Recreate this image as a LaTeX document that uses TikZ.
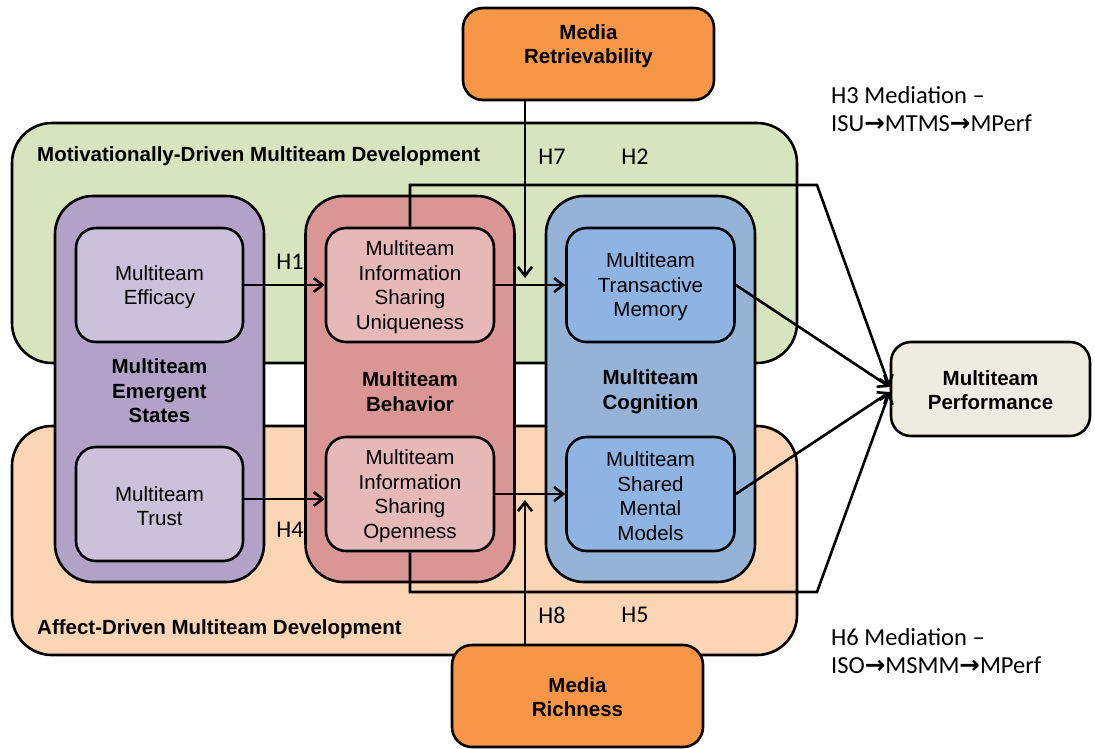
\documentclass[tikz,border=0pt]{standalone}
\usepackage{fontspec}
\setmainfont{Liberation Sans}
\newfontfamily\calfont{Carlito}
\newfontfamily\symfont{DejaVu Sans}
\usetikzlibrary{arrows.meta,calc}

\definecolor{motivgreen}{HTML}{D7E4BD}
\definecolor{affectpeach}{HTML}{FCD5B5}
\definecolor{purpleouter}{HTML}{B2A2C7}
\definecolor{purpleinner}{HTML}{CCC1DA}
\definecolor{redouter}{HTML}{D99694}
\definecolor{redinner}{HTML}{E6B9B8}
\definecolor{blueouter}{HTML}{95B3D7}
\definecolor{blueinner}{HTML}{8EB4E3}
\definecolor{mediaorange}{HTML}{F79646}
\definecolor{perfgrey}{HTML}{EEECE1}

\tikzset{
  panel/.style={draw=black, line width=2.6pt, inner sep=0pt, rectangle},
  region/.style={panel, rounded corners=40pt},
  column/.style={panel, rounded corners=38pt, minimum width=209pt, minimum height=386pt},
  innerbox/.style={panel, rounded corners=20pt, minimum width=167pt, minimum height=114pt},
  itxt/.style={font=\fontsize{20.5}{24.5}\selectfont, align=center, inner sep=0pt},
  btxt/.style={font=\fontsize{20.5}{24.5}\selectfont\bfseries, align=center, inner sep=0pt},
  hlab/.style={font=\calfont\fontsize{24}{28}\selectfont, inner sep=0pt},
  medtxt/.style={font=\calfont\fontsize{24.5}{28}\selectfont, align=left, inner sep=0pt, anchor=west},
  arr/.style={line width=2.6pt, -{Straight Barb[length=9pt,width=14pt,line width=2.6pt]}}
}

\newcommand{\rarr}{{\symfont\bfseries →}}

\begin{document}
\begin{tikzpicture}[x=1pt,y=-1pt]
\useasboundingbox (0,0) rectangle (1095,748);

% development regions
\node[region, fill=motivgreen, minimum width=785pt, minimum height=240pt] (motiv) at (404.5,243) {};
\node[region, fill=affectpeach, minimum width=785pt, minimum height=229pt] (affect) at (404.5,540.5) {};
\node[btxt, anchor=west] (motivlab) at (37,156) {Motivationally-Driven Multiteam Development};
\node[btxt, anchor=west] (affectlab) at (37,629) {Affect-Driven Multiteam Development};

% media boxes
\node[panel, rounded corners=20pt, fill=mediaorange, minimum width=251pt, minimum height=92pt] (retr) at (588.5,54) {};
\node[btxt] (retrlab) at ([yshift=8pt]retr.center) {Media\\Retrievability};
\node[panel, rounded corners=20pt, fill=mediaorange, minimum width=251pt, minimum height=102pt] (rich) at (577.5,696) {};
\node[btxt] (richlab) at ([yshift=-1pt]rich.center) {Media\\Richness};

% columns
\node[column, fill=purpleouter] (states) at (159.5,389) {};
\node[column, fill=redouter] (behav) at (410,389) {};
\node[column, fill=blueouter] (cogn) at (650.5,389) {};
\node[btxt] (stateslab) at (159.5,391) {Multiteam\\Emergent\\States};
\node[btxt] (behavlab) at (410,391.5) {Multiteam\\Behavior};
\node[btxt] (cognlab) at (650.5,391.5) {Multiteam\\Cognition};

% inner constructs
\node[innerbox, fill=purpleinner] (eff) at (159.5,285) {};
\node[innerbox, fill=purpleinner] (trust) at (159.5,504) {};
\node[innerbox, fill=redinner, minimum width=168pt] (isu) at (410,285) {};
\node[innerbox, fill=redinner, minimum width=168pt] (iso) at (410,494) {};
\node[innerbox, fill=blueinner, minimum width=168pt] (mtm) at (650.5,285) {};
\node[innerbox, fill=blueinner, minimum width=168pt] (smm) at (650.5,494) {};
\node[itxt] (efftxt) at ([yshift=-2pt]eff.center) {Multiteam\\Efficacy};
\node[itxt] (trusttxt) at ([yshift=-2pt]trust.center) {Multiteam\\Trust};
\node[itxt] (isutxt) at ([yshift=-2pt]isu.center) {Multiteam\\Information\\Sharing\\Uniqueness};
\node[itxt] (isotxt) at ([yshift=-2pt]iso.center) {Multiteam\\Information\\Sharing\\Openness};
\node[itxt] (mtmtxt) at ([yshift=-2pt]mtm.center) {Multiteam\\Transactive\\Memory};
\node[itxt] (smmtxt) at ([yshift=-2pt]smm.center) {Multiteam\\Shared\\Mental\\Models};

% outcome
\node[panel, rounded corners=20pt, fill=perfgrey, minimum width=199pt, minimum height=94pt] (perf) at (990.5,389) {};
\node[btxt] (perflab) at ([yshift=-1pt]perf.center) {Multiteam\\Performance};

% helper points
\coordinate (h7end) at (525,278);
\coordinate (h8end) at (525,500);
\coordinate (topbend) at (817,185);
\coordinate (botbend) at (817,592);

% connectors
\draw[arr] (eff) -- (isu);
\draw[arr] ([yshift=5pt]trust.east) -- ([yshift=5pt]trust.east -| iso.west);
\draw[arr] (isu) -- (mtm);
\draw[arr] (iso) -- (smm);
\draw[arr] (retr.south -| h7end) -- (h7end);
\draw[arr] (rich.north -| h8end) -- (h8end);
\draw[arr] (isu.north) |- (topbend) -- ([yshift=2pt]perf.west);
\draw[arr] (iso.south) |- (botbend) -- ([yshift=-3pt]perf.west);
\draw[arr] (mtm.east) -- ([yshift=2pt]perf.west);
\draw[arr] (smm.east) -- ([yshift=-3pt]perf.west);

% hypothesis labels
\node[hlab] (h1) at (290,262) {H1};
\node[hlab] (h4) at (290,530) {H4};
\node[hlab] (h7) at (552,157) {H7};
\node[hlab] (h2) at (635,157) {H2};
\node[hlab] (h8) at (552,615) {H8};
\node[hlab] (h5) at (635,615) {H5};

% mediation notes
\node[medtxt] (h3note) at (831,109) {H3 Mediation –\\ISU\rarr MTMS\rarr MPerf};
\node[medtxt] (h6note) at (831,651) {H6 Mediation –\\ISO\rarr MSMM\rarr MPerf};
\end{tikzpicture}
\end{document}
